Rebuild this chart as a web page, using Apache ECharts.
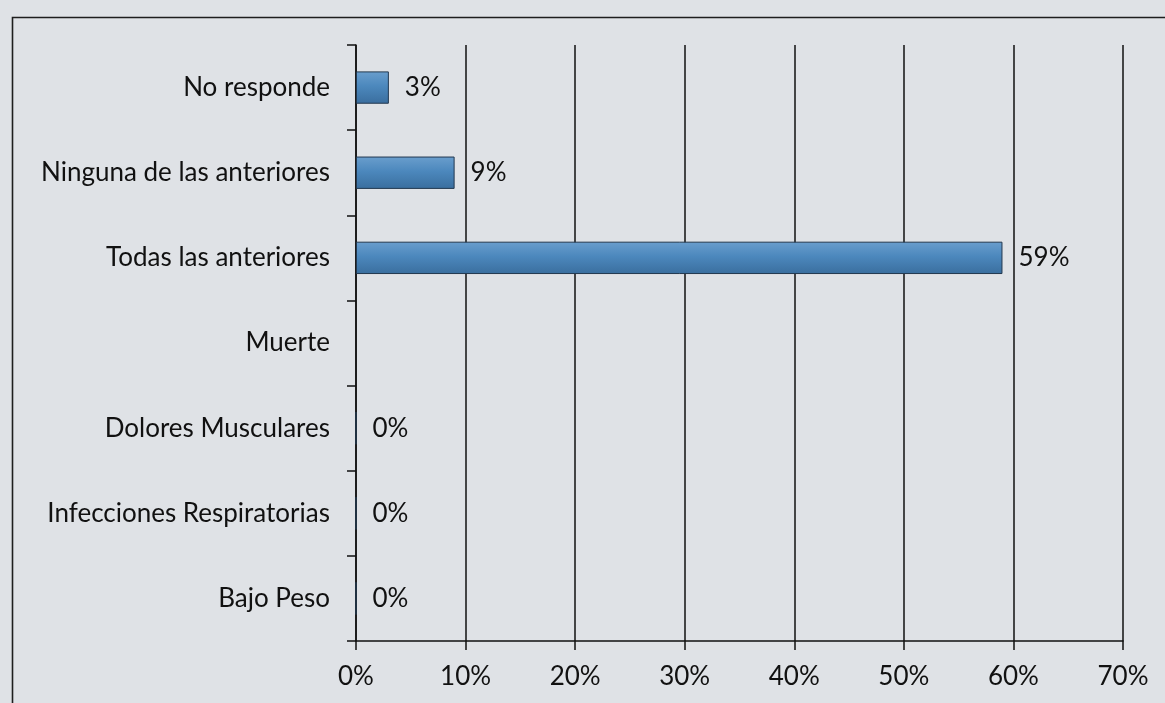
<!DOCTYPE html>
<html>
<head>
<meta charset="utf-8">
<script src="https://cdn.jsdelivr.net/npm/echarts@6/dist/echarts.min.js"></script>
<style>
  html, body { margin: 0; padding: 0; background: #dfe2e6; }
  #chart { width: 1165px; height: 703px; }
</style>
</head>
<body>
<div id="chart"></div>
<script>
// Survey answers, listed bottom to top as they appear on the category axis
const categories = [
  'Bajo Peso',
  'Infecciones Respiratorias',
  'Dolores Musculares',
  'Muerte',
  'Todas las anteriores',
  'Ninguna de las anteriores',
  'No responde'
];
// Share of respondents (%); Muerte was left blank
const percentages = [0, 0, 0, null, 59, 9, 3];
// Percentage scale shown on the horizontal axis
const axisMin = 0;
const axisMax = 70;
const axisStep = 10;

const FONT = 'Lato, "Open Sans", sans-serif';
const INK = '#111111';
const FONT_SIZE = 26;

const chart = echarts.init(document.getElementById('chart'), null, { renderer: 'canvas' });

chart.setOption({
  backgroundColor: '#dfe2e6',
  animation: false,
  graphic: [{
    type: 'rect',
    left: 10,
    top: 15,
    shape: { width: 1300, height: 900 },
    style: { fill: 'none', stroke: '#1e1e1e', lineWidth: 1.6 },
    silent: true,
    z: -1
  }],
  grid: {
    left: 356,
    right: 42,
    top: 45,
    bottom: 62,
    containLabel: false,
    outerBoundsMode: 'none'
  },
  xAxis: {
    type: 'value',
    min: axisMin,
    max: axisMax,
    interval: axisStep,
    axisLine: { show: true, lineStyle: { color: INK, width: 1.5 } },
    axisTick: { show: true, length: 9, lineStyle: { color: INK, width: 1.5 } },
    splitLine: { show: true, lineStyle: { color: INK, width: 1.5 } },
    axisLabel: {
      formatter: '{value}%',
      color: INK,
      fontFamily: FONT,
      fontSize: FONT_SIZE,
      margin: 23
    }
  },
  yAxis: {
    type: 'category',
    data: categories,
    axisLine: { show: true, lineStyle: { color: INK, width: 1.5 } },
    axisTick: { show: true, length: 9, lineStyle: { color: INK, width: 1.5 } },
    splitLine: { show: false },
    axisLabel: {
      color: INK,
      fontFamily: FONT,
      fontSize: FONT_SIZE,
      margin: 26
    }
  },
  series: [{
    type: 'bar',
    data: percentages,
    barWidth: '38%',
    itemStyle: {
      color: new echarts.graphic.LinearGradient(0, 0, 0, 1, [
        { offset: 0, color: '#6a9ecd' },
        { offset: 0.45, color: '#4c88bd' },
        { offset: 1, color: '#3a6e9e' }
      ]),
      borderColor: '#22384f',
      borderWidth: 1
    },
    label: {
      show: true,
      position: 'right',
      distance: 16,
      formatter: '{c}%',
      color: INK,
      fontFamily: FONT,
      fontSize: FONT_SIZE
    }
  }]
});
</script>
</body>
</html>
